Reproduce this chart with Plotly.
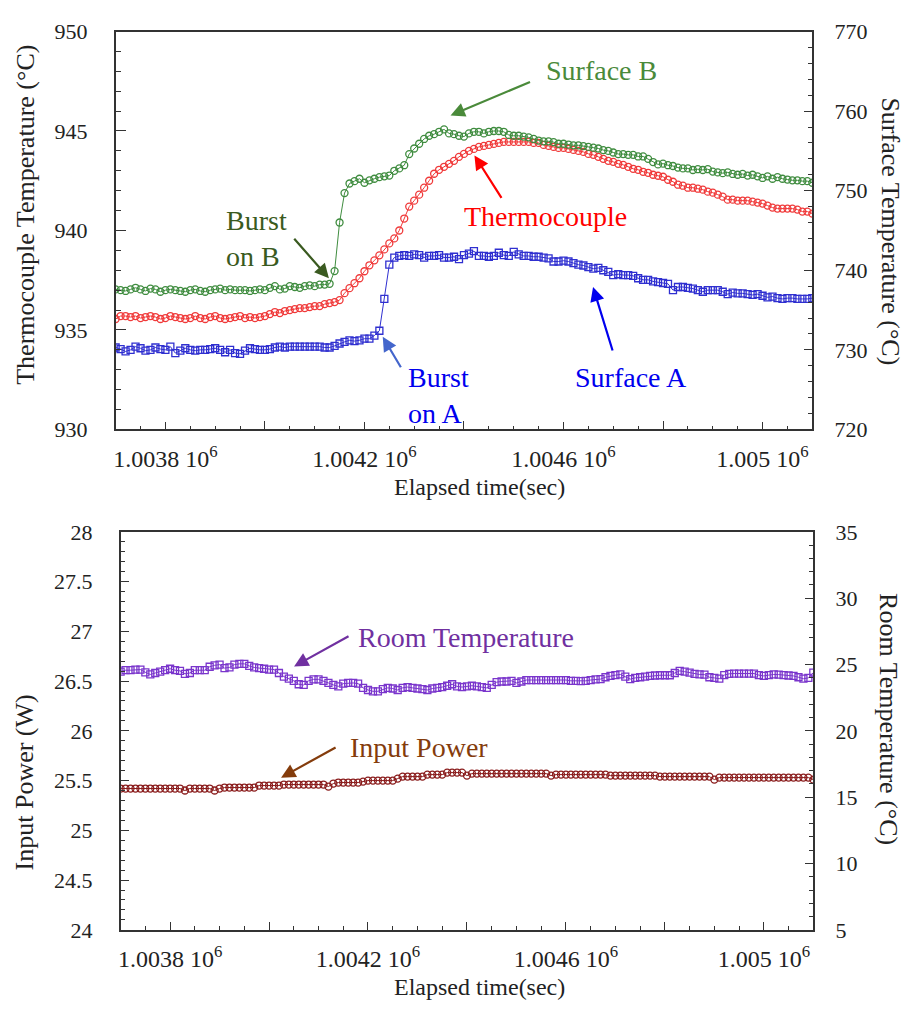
import plotly.graph_objects as go

# ---------------- data ----------------
# elapsed time of each sample (s), 10 s logging interval
elapsed = list(range(1003700, 1005101, 10))

# thermocouple temperature (deg C), left axis of top panel
thermocouple = [
    935.55, 935.70, 935.70, 935.65, 935.70, 935.60, 935.65, 935.70, 935.65, 935.55,
    935.60, 935.70, 935.65, 935.60, 935.55, 935.60, 935.70, 935.60, 935.55, 935.65,
    935.70, 935.60, 935.55, 935.60, 935.65, 935.70, 935.60, 935.65, 935.60, 935.65,
    935.70, 935.80, 935.90, 935.85, 935.95, 936.00, 936.05, 936.10, 936.10, 936.15,
    936.20, 936.20, 936.30, 936.35, 936.40, 936.50, 936.85, 937.10, 937.35, 937.60,
    937.95, 938.25, 938.50, 938.75, 939.05, 939.35, 939.60, 940.00, 940.60, 941.20,
    941.50, 941.80, 942.15, 942.50, 942.85, 943.05, 943.20, 943.35, 943.50, 943.70,
    943.85, 944.00, 944.10, 944.20, 944.25, 944.30, 944.35, 944.40, 944.45, 944.45,
    944.45, 944.45, 944.45, 944.45, 944.40, 944.40, 944.30, 944.25, 944.20, 944.15,
    944.15, 944.10, 944.05, 944.00, 943.95, 943.85, 943.80, 943.70, 943.60, 943.50,
    943.45, 943.35, 943.30, 943.20, 943.10, 943.05, 942.95, 942.90, 942.80, 942.75,
    942.70, 942.55, 942.45, 942.30, 942.25, 942.15, 942.15, 942.10, 942.05, 941.95,
    941.90, 941.80, 941.70, 941.55, 941.55, 941.50, 941.50, 941.50, 941.45, 941.40,
    941.35, 941.25, 941.15, 941.10, 941.10, 941.10, 941.10, 941.05, 940.95, 940.95,
    940.85,
]

# surface A temperature (deg C), right axis of top panel
surface_a = [
    730.3, 730.1, 729.8, 730.0, 730.4, 730.2, 729.9, 730.0, 730.3, 730.1,
    730.0, 730.4, 729.6, 729.9, 730.2, 730.0, 729.9, 730.0, 730.0, 730.1,
    730.2, 730.0, 729.7, 730.0, 729.6, 729.5, 729.9, 730.2, 730.1, 730.0,
    730.0, 730.1, 730.3, 730.4, 730.3, 730.4, 730.4, 730.4, 730.4, 730.4,
    730.4, 730.4, 730.3, 730.3, 730.5, 730.8, 731.0, 731.2, 731.1, 731.2,
    731.4, 731.4, 731.8, 732.4, 736.4, 740.7, 741.6, 741.8, 741.9, 741.8,
    742.0, 741.9, 741.6, 741.8, 741.8, 741.9, 741.6, 741.6, 741.7, 741.4,
    741.9, 742.1, 742.4, 741.8, 741.8, 741.7, 741.8, 742.2, 741.9, 741.8,
    742.3, 742.0, 741.8, 741.8, 741.7, 741.7, 741.6, 741.5, 741.1, 741.1,
    741.2, 741.1, 740.9, 740.7, 740.6, 740.4, 740.2, 740.3, 740.0, 739.8,
    739.4, 739.5, 739.4, 739.4, 739.3, 739.0, 738.8, 738.8, 738.6, 738.5,
    738.4, 738.3, 737.5, 737.9, 737.9, 737.8, 737.7, 737.5, 737.3, 737.5,
    737.5, 737.5, 737.3, 737.0, 737.2, 737.1, 737.1, 737.0, 736.9, 737.0,
    736.8, 736.6, 736.7, 736.5, 736.4, 736.5, 736.5, 736.4, 736.4, 736.4,
    736.5,
]

# surface B temperature (deg C), right axis of top panel
surface_b = [
    737.6, 737.5, 737.4, 737.6, 737.8, 737.6, 737.4, 737.7, 737.6, 737.3,
    737.5, 737.6, 737.5, 737.4, 737.3, 737.5, 737.6, 737.4, 737.3, 737.5,
    737.6, 737.7, 737.5, 737.6, 737.5, 737.5, 737.5, 737.4, 737.5, 737.6,
    737.5, 737.8, 738.0, 737.6, 737.7, 738.0, 737.9, 737.8, 738.0, 738.1,
    738.0, 738.2, 738.2, 738.3, 739.9, 746.0, 749.7, 750.9, 751.2, 751.5,
    751.0, 751.3, 751.5, 751.7, 751.8, 751.9, 752.5, 752.8, 753.2, 754.6,
    755.3, 755.9, 756.5, 756.9, 757.1, 757.4, 757.7, 757.2, 757.1, 756.9,
    756.8, 757.2, 757.4, 757.4, 757.2, 757.4, 757.5, 757.5, 757.4, 757.0,
    756.9, 756.9, 756.8, 756.7, 756.5, 756.3, 756.2, 756.2, 756.1, 755.9,
    755.9, 755.8, 755.7, 755.7, 755.6, 755.5, 755.4, 755.3, 755.1, 755.0,
    754.8, 754.6, 754.6, 754.5, 754.5, 754.3, 754.3, 754.0, 753.6, 753.3,
    753.4, 753.2, 753.1, 752.9, 752.8, 752.8, 752.6, 752.7, 752.6, 752.7,
    752.4, 752.3, 752.2, 752.3, 752.1, 752.0, 752.1, 751.9, 752.0, 751.8,
    751.6, 751.8, 751.5, 751.7, 751.5, 751.4, 751.3, 751.3, 751.2, 751.2,
    751.0,
]

# room temperature (deg C), right axis of bottom panel
room_temp = [
    24.46, 24.57, 24.57, 24.62, 24.62, 24.41, 24.25, 24.36, 24.46, 24.57,
    24.68, 24.57, 24.52, 24.30, 24.36, 24.57, 24.57, 24.57, 24.83, 24.94,
    24.99, 24.73, 24.78, 24.99, 25.05, 25.05, 24.89, 24.78, 24.73, 24.68,
    24.62, 24.62, 24.36, 24.09, 23.93, 23.77, 23.51, 23.46, 23.77, 23.88,
    23.88, 23.77, 23.61, 23.46, 23.35, 23.56, 23.61, 23.61, 23.56, 23.24,
    23.08, 22.98, 22.98, 23.14, 23.24, 23.19, 23.08, 23.24, 23.30, 23.24,
    23.19, 23.14, 23.08, 23.19, 23.24, 23.30, 23.40, 23.51, 23.35, 23.30,
    23.35, 23.40, 23.35, 23.30, 23.24, 23.46, 23.67, 23.72, 23.72, 23.77,
    23.61, 23.72, 23.83, 23.83, 23.83, 23.83, 23.83, 23.83, 23.83, 23.83,
    23.83, 23.77, 23.77, 23.75, 23.77, 23.83, 23.88, 23.90, 24.04, 24.14,
    24.20, 24.25, 24.09, 23.90, 23.99, 24.04, 24.09, 24.14, 24.17, 24.19,
    24.19, 24.19, 24.36, 24.52, 24.46, 24.39, 24.30, 24.25, 24.24, 24.04,
    23.99, 23.93, 24.20, 24.30, 24.32, 24.32, 24.32, 24.32, 24.32, 24.20,
    24.14, 24.20, 24.25, 24.24, 24.20, 24.17, 24.14, 24.04, 23.93, 23.99,
    24.39,
]

# input power (W), left axis of bottom panel
input_power = [
    25.42, 25.42, 25.42, 25.42, 25.42, 25.42, 25.42, 25.42, 25.42, 25.42,
    25.42, 25.42, 25.42, 25.40, 25.42, 25.42, 25.42, 25.42, 25.42, 25.40,
    25.42, 25.43, 25.43, 25.43, 25.43, 25.43, 25.43, 25.43, 25.45, 25.45,
    25.45, 25.45, 25.45, 25.46, 25.46, 25.46, 25.46, 25.46, 25.46, 25.46,
    25.46, 25.46, 25.44, 25.47, 25.48, 25.48, 25.48, 25.48, 25.48, 25.49,
    25.50, 25.50, 25.50, 25.50, 25.50, 25.50, 25.52, 25.54, 25.54, 25.54,
    25.54, 25.54, 25.56, 25.56, 25.56, 25.56, 25.58, 25.58, 25.58, 25.58,
    25.55, 25.57, 25.57, 25.57, 25.57, 25.57, 25.57, 25.57, 25.57, 25.57,
    25.57, 25.57, 25.57, 25.57, 25.57, 25.57, 25.57, 25.55, 25.56, 25.56,
    25.56, 25.56, 25.56, 25.56, 25.56, 25.56, 25.56, 25.56, 25.56, 25.55,
    25.55, 25.55, 25.55, 25.55, 25.55, 25.55, 25.55, 25.55, 25.55, 25.54,
    25.54, 25.54, 25.54, 25.54, 25.54, 25.54, 25.54, 25.54, 25.54, 25.54,
    25.51, 25.53, 25.53, 25.53, 25.53, 25.53, 25.53, 25.53, 25.53, 25.53,
    25.53, 25.53, 25.53, 25.53, 25.53, 25.53, 25.53, 25.53, 25.53, 25.53,
    25.51,
]

# labelled time ticks and the unlabelled major ticks between them
x_label_vals = [1003800, 1004200, 1004600, 1005000]
x_label_text = ["1.0038 10<sup>6</sup>", "1.0042 10<sup>6</sup>",
                "1.0046 10<sup>6</sup>", "1.005 10<sup>6</sup>"]
x_plain_vals = [1004000, 1004400, 1004800]

# ---------------- styling ----------------
W, H = 907, 1014
FONT = "Liberation Serif"
GREEN = "#3f8c3f"
RED = "#f03a3a"
BLUE = "#2f2fd0"
PURPLE = "#7a35cc"
BROWN = "#8a1c1c"
AXIS = "#333333"


def pxx(x):
    return x / W


def pxy(y):
    return 1 - y / H


fig = go.Figure()

marker_circle = dict(symbol="circle-open", size=7, line=dict(width=1.3))
marker_square = dict(symbol="square-open", size=7, line=dict(width=1.3))

fig.add_trace(go.Scatter(x=elapsed, y=thermocouple, mode="lines+markers",
                         line=dict(color=RED, width=1),
                         marker=dict(color=RED, **marker_circle),
                         xaxis="x", yaxis="y", name="Thermocouple"))
fig.add_trace(go.Scatter(x=elapsed, y=surface_a, mode="lines+markers",
                         line=dict(color=BLUE, width=1),
                         marker=dict(color=BLUE, **marker_square),
                         xaxis="x", yaxis="y2", name="Surface A"))
fig.add_trace(go.Scatter(x=elapsed, y=surface_b, mode="lines+markers",
                         line=dict(color=GREEN, width=1),
                         marker=dict(color=GREEN, **marker_circle),
                         xaxis="x", yaxis="y2", name="Surface B"))
fig.add_trace(go.Scatter(x=elapsed, y=input_power, mode="lines+markers",
                         line=dict(color=BROWN, width=1),
                         marker=dict(color=BROWN, **marker_circle),
                         xaxis="x2", yaxis="y3", name="Input Power"))
fig.add_trace(go.Scatter(x=elapsed, y=room_temp, mode="lines+markers",
                         line=dict(color=PURPLE, width=1),
                         marker=dict(color=PURPLE, **marker_square),
                         xaxis="x2", yaxis="y4", name="Room Temperature"))

axis_common = dict(showgrid=False, zeroline=False, showline=True,
                   linecolor=AXIS, linewidth=1.5, ticks="inside",
                   tickcolor=AXIS, tickwidth=1.3,
                   tickfont=dict(family=FONT, size=22, color="#222222"))

xaxis_common = dict(axis_common, range=[1003700, 1005100], tickmode="array",
                    tickvals=x_label_vals, ticktext=x_label_text, ticklen=8,
                    mirror=True, ticklabelstandoff=7,
                    tickfont=dict(family=FONT, size=24, color="#222222"),
                    minor=dict(ticks="inside", ticklen=4, dtick=50,
                               tick0=1003700, tickcolor=AXIS))

# companion axes carrying the unlabelled 200 s major ticks
xaxis_plain = dict(range=[1003700, 1005100], tickmode="array",
                   tickvals=x_plain_vals, ticks="inside", ticklen=8,
                   tickcolor=AXIS, tickwidth=1.3, showticklabels=False,
                   showline=False, showgrid=False, zeroline=False)

top_x = [pxx(113), pxx(812)]
top_y = [pxy(428), pxy(20)]
bot_x = [pxx(118), pxx(813)]
bot_y = [pxy(941), pxy(533)]

fig.update_layout(
    width=W, height=H, margin=dict(l=0, r=0, t=0, b=0),
    paper_bgcolor="white", plot_bgcolor="white", showlegend=False,
    xaxis=dict(xaxis_common, domain=top_x, anchor="y"),
    xaxis3=dict(xaxis_plain, overlaying="x", anchor="y"),
    yaxis=dict(axis_common, domain=top_y, anchor="x", range=[930, 950],
               dtick=5, ticklen=11, ticklabelstandoff=22,
               minor=dict(ticks="inside", ticklen=6, dtick=1, tickcolor=AXIS)),
    yaxis2=dict(axis_common, overlaying="y", side="right", anchor="x",
                range=[720, 770], dtick=10, ticklen=9, ticklabelstandoff=16,
                minor=dict(ticks="inside", ticklen=5, dtick=2, tickcolor=AXIS)),
    xaxis2=dict(xaxis_common, domain=bot_x, anchor="y3"),
    xaxis4=dict(xaxis_plain, overlaying="x2", anchor="y3"),
    yaxis3=dict(axis_common, domain=bot_y, anchor="x2", range=[24, 28],
                dtick=0.5, ticklen=9, ticklabelstandoff=22,
                minor=dict(ticks="inside", ticklen=5, dtick=0.1, tickcolor=AXIS)),
    yaxis4=dict(axis_common, overlaying="y3", side="right", anchor="x2",
                range=[5, 35], dtick=5, ticklen=9, ticklabelstandoff=16,
                minor=dict(ticks="inside", ticklen=5, dtick=1, tickcolor=AXIS)),
)

# invisible traces so the companion tick axes are drawn
fig.add_trace(go.Scatter(x=[elapsed[0]], y=[thermocouple[0]], xaxis="x3", yaxis="y",
                         mode="markers", marker=dict(opacity=0), hoverinfo="skip"))
fig.add_trace(go.Scatter(x=[elapsed[0]], y=[input_power[0]], xaxis="x4", yaxis="y3",
                         mode="markers", marker=dict(opacity=0), hoverinfo="skip"))

annotations = []


def title(text, x, y, angle=0, size=24):
    annotations.append(dict(text=text, x=pxx(x), y=pxy(y), xref="paper", yref="paper",
                            showarrow=False, textangle=angle,
                            font=dict(family=FONT, size=size, color="#222222"),
                            xanchor="center", yanchor="middle"))


def label(text, x, y, color, anchor="center", size=28):
    annotations.append(dict(text=text, x=pxx(x), y=pxy(y), xref="paper", yref="paper",
                            showarrow=False, align="left" if anchor == "left" else "center",
                            font=dict(family=FONT, size=size, color=color),
                            xanchor=anchor, yanchor="middle"))


def arrow(tail, tip, color):
    # arrow drawn from tail to tip, offsets given in screen pixels
    annotations.append(dict(text="", x=pxx(tip[0]), y=pxy(tip[1]), xref="paper", yref="paper",
                            ax=tail[0] - tip[0], ay=tail[1] - tip[1],
                            axref="pixel", ayref="pixel",
                            showarrow=True, arrowhead=2, arrowsize=1.3, arrowwidth=2.2,
                            arrowcolor=color, standoff=0))


# axis titles
title("Thermocouple Temperature (°C)", 23, 208, -90, 26)
title("Surface Temperature (°C)", 890, 225, 90, 26)
title("Elapsed time(sec)", 478, 487)
title("Input Power (W)", 22, 790, -90, 26)
title("Room Temperature (°C)", 889, 725, 90, 26)
title("Elapsed time(sec)", 478, 1000)

# series call-outs
label("Surface B", 600, 60, "#4a8a3a")
arrow((530, 72), (449, 106), "#4a8a3a")
label("Thermocouple", 544, 210, "#ff0000")
arrow((501, 191), (473, 147), "#ff0000")
label("Burst<br>on B", 222, 232, "#3a5a20", anchor="left")
arrow((291, 232), (327, 273), "#3a5a20")
label("Burst<br>on A", 404, 393, "#0000ee", anchor="left")
arrow((400, 365), (381, 333), "#4466cc")
label("Surface A", 630, 375, "#0000ee")
arrow((612, 347), (592, 282), "#0000ee")
label("Room Temperature", 465, 641, "#7030a0")
arrow((348, 640), (292, 671), "#7030a0")
label("Input Power", 417, 754, "#843c0c")
arrow((335, 754), (279, 785), "#843c0c")

fig.update_layout(annotations=annotations)

fig.write_html("out.html")
